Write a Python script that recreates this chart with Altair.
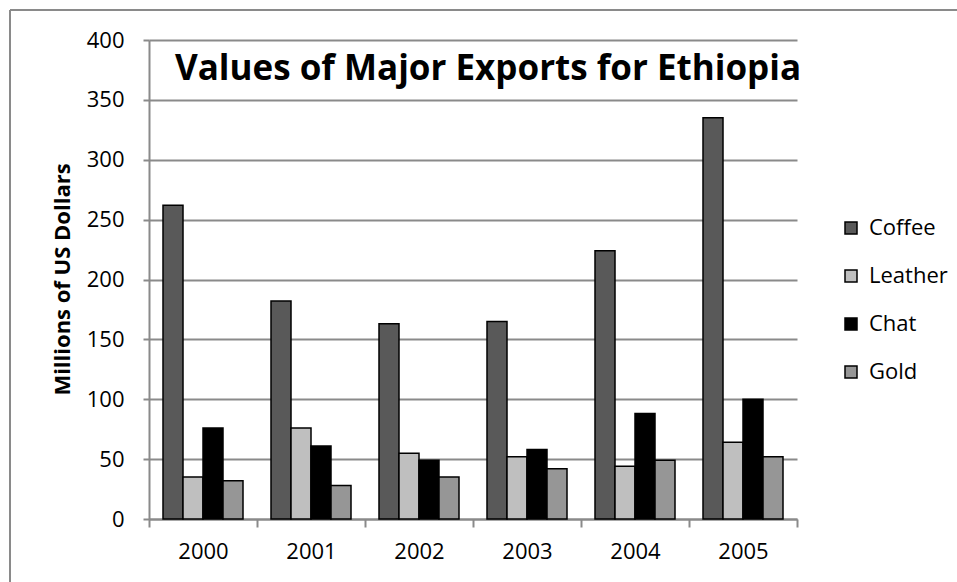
import altair as alt
import pandas as pd

years = ["2000", "2001", "2002", "2003", "2004", "2005"]
series = ["Coffee", "Leather", "Chat", "Gold"]
coffee = [262, 182, 163, 165, 224, 335]
leather = [35, 76, 55, 52, 44, 64]
chat = [76, 61, 49, 58, 88, 100]
gold = [32, 28, 35, 42, 49, 52]
colors = ["#595959", "#bfbfbf", "#000000", "#969696"]
y_ticks = [0, 50, 100, 150, 200, 250, 300, 350, 400]
chart_title = "Values of Major Exports for Ethiopia"
y_title = "Millions of US Dollars"

rows = []
for name, vals in zip(series, [coffee, leather, chat, gold]):
    for yr, v in zip(years, vals):
        rows.append({"Year": yr, "Series": name, "Value": v})
df = pd.DataFrame(rows)

FONT = "Open Sans"
GRAY = "#8a8a8a"

bars = alt.Chart(df).mark_bar(stroke="black", strokeWidth=1.5).encode(
    x=alt.X(
        "Year:N", sort=years,
        scale=alt.Scale(paddingInner=0, paddingOuter=0),
        axis=alt.Axis(
            title=None, labelAngle=0, tickBand="extent", grid=False,
            ticks=True, tickSize=8, tickColor=GRAY, tickWidth=2,
            domainColor=GRAY, domainWidth=2,
            labelFontSize=22, labelPadding=14, labelFont=FONT, labelColor="black",
        ),
    ),
    xOffset=alt.XOffset("Series:N", sort=series,
                        scale=alt.Scale(paddingInner=0, paddingOuter=0.7)),
    y=alt.Y(
        "Value:Q",
        scale=alt.Scale(domain=[0, 400], nice=False),
        axis=alt.Axis(
            values=y_ticks, title=y_title,
            grid=True, gridColor=GRAY, gridWidth=2,
            ticks=True, tickSize=6, tickColor=GRAY, tickWidth=2,
            domainColor=GRAY, domainWidth=2,
            labelFontSize=22, labelPadding=19, labelFont=FONT, labelColor="black",
            titleFont=FONT, titleFontSize=22, titleFontWeight="bold", titleColor="black",
            titleX=-87, titleY=239, titleAngle=-90, titleAlign="center", titleBaseline="middle",
        ),
    ),
    color=alt.Color(
        "Series:N", sort=series,
        scale=alt.Scale(domain=series, range=colors),
        legend=alt.Legend(
            title=None, orient="none", legendX=691, legendY=177,
            symbolType="square", symbolSize=144, symbolStrokeColor="black",
            symbolStrokeWidth=1.5, symbolOpacity=1,
            labelFont=FONT, labelFontSize=22, labelColor="black",
            labelOffset=7, rowPadding=26,
        ),
    ),
)

title_df = pd.DataFrame({"t": [chart_title]})
title = alt.Chart(title_df).mark_text(
    font=FONT, fontSize=35, fontWeight="bold", color="black",
    align="center", baseline="alphabetic",
).encode(text="t:N", x=alt.value(339), y=alt.value(40))

frame_df = pd.DataFrame({"k": [0]})
top_border = alt.Chart(frame_df).mark_rule(color=GRAY, strokeWidth=2).encode(
    x=alt.value(-139), x2=alt.value(810), y=alt.value(-30)
)
left_border = alt.Chart(frame_df).mark_rule(color=GRAY, strokeWidth=2).encode(
    x=alt.value(-139), y=alt.value(-30), y2=alt.value(545)
)

chart = alt.layer(bars, title, top_border, left_border).properties(
    width=648, height=479,
    autosize=alt.AutoSizeParams(type="none"),
    padding={"left": 149, "top": 40, "right": 160, "bottom": 63},
    background="white",
).configure_view(stroke=None)

chart.save("out.html", embed_options={"renderer": "svg", "actions": False})
